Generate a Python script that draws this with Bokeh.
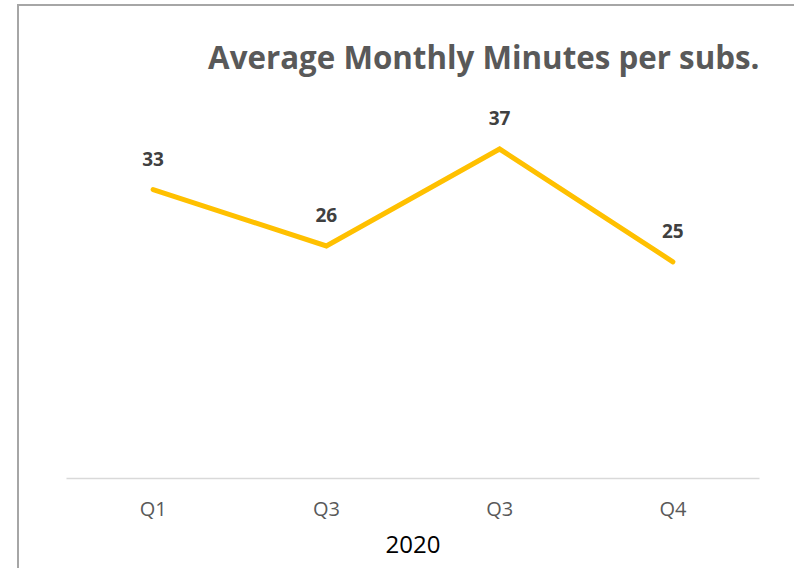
from bokeh.plotting import figure
from bokeh.models import ColumnDataSource, FixedTicker, Range1d, LabelSet
from bokeh.core.properties import value
from bokeh.embed import file_html
from bokeh.resources import INLINE

title_text = "Average Monthly Minutes per subs."
quarters = ["Q1", "Q3", "Q3", "Q4"]
minutes = [32.8, 26.4, 37.4, 24.6]
year_label = "2020"

xs = list(range(1, len(quarters) + 1))
labels = [f"{v:.0f}" for v in minutes]
src = ColumnDataSource(dict(x=xs, y=minutes, lab=labels))

p = figure(width=794, height=568, output_backend="svg", toolbar_location=None,
           x_range=Range1d(0.5, 4.5), y_range=Range1d(0, 44.5),
           min_border_left=66, min_border_right=35, min_border_top=86, min_border_bottom=90)
p.outline_line_color = None
p.border_fill_color = None
p.background_fill_color = None
p.xgrid.visible = False
p.ygrid.visible = False
p.yaxis.visible = False

# chart-area border (left and top edges visible in the reference)
p.styles = {
    "background": ("linear-gradient(#a6a6a6, #a6a6a6) 17px 4px / 2px calc(100% - 4px) no-repeat, "
                   "linear-gradient(#a6a6a6, #a6a6a6) 17px 4px / calc(100% - 17px) 2px no-repeat, #ffffff"),
}

p.title.text = title_text
p.title.align = "right"
p.title.text_font = "Open Sans"
p.title.text_font_style = "bold"
p.title.text_font_size = "31.3px"
p.title.text_color = "#595959"
p.title.standoff = 17

ax = p.xaxis[0]
ax.ticker = FixedTicker(ticks=xs)
ax.major_label_overrides = {x: q for x, q in zip(xs, quarters)}
ax.major_tick_line_color = None
ax.minor_tick_line_color = None
ax.axis_line_color = "#d9d9d9"
ax.axis_line_width = 1.5
ax.major_label_text_font = "Open Sans"
ax.major_label_text_font_size = "20px"
ax.major_label_text_color = "#595959"
ax.major_label_standoff = 10
ax.axis_label = year_label
ax.axis_label_text_font = "Open Sans"
ax.axis_label_text_font_style = "normal"
ax.axis_label_text_font_size = "24px"
ax.axis_label_text_color = "#000000"
ax.axis_label_standoff = 11

p.line("x", "y", source=src, line_color="#FFC000", line_width=5, line_cap="round", line_join="miter")

ls = LabelSet(x="x", y="y", text="lab", source=src, y_offset=31, text_align="center",
              text_baseline="middle", text_font=value("Open Sans"), text_font_style="bold",
              text_font_size="19px", text_color="#404040")
p.add_layout(ls)

open("out.html", "w").write(file_html(p, INLINE))
